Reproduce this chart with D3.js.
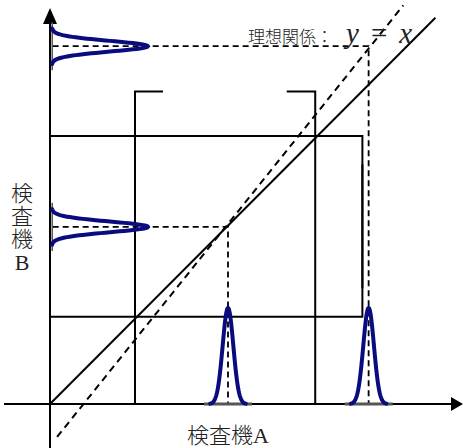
<!DOCTYPE html>
<html>
<head>
<meta charset="utf-8">
<script src="https://cdn.jsdelivr.net/npm/d3@7"></script>
<style>
  body { margin: 0; background: #fff; }
  svg { display: block; }
  .jp { font-family: "Liberation Serif", "Noto Sans CJK JP", serif; fill: #222; font-weight: 300; }
</style>
</head>
<body>
<div id="chart"></div>
<script>
// data (units of the diagram, 1 unit ~ 89px)
const thresholdsA = [0.955, 2.98]   // vertical limit lines (検査機A)
const thresholdsB = [0.98, 3.01]    // horizontal limit lines (検査機B)
const limitEnd = 3.51
const bracketTipsA = [1.27, 2.66]   // ends of top brackets
const bracketTipsB = [2.69, 1.30]   // ends of right brackets
const measuredA = [2.0, 3.58]
const measuredB = [1.99, 4.02]
const actualLine = [[0, 0], [4.33, 4.34]]
const idealLine = [[0.08, -0.37], [3.97, 4.48]]
const peakHeight = 1.08
const peakSigma = 0.06
const peakHalf = 0.2

const W = 463, H = 448
const svg = d3.select("#chart").append("svg")
  .attr("width", W).attr("height", H)

const x = d3.scaleLinear().domain([0, 4]).range([50, 50 + 4 * 89])
const y = d3.scaleLinear().domain([0, 4]).range([404, 404 - 4 * 89])

const line = d3.line().x(d => x(d[0])).y(d => y(d[1]))

// axes
svg.append("line").attr("x1", 4).attr("x2", 452).attr("y1", y(0)).attr("y2", y(0))
  .attr("stroke", "#000").attr("stroke-width", 2)
svg.append("path").attr("d", `M463,${y(0)} L451,${y(0) - 7} L451,${y(0) + 7} Z`).attr("fill", "#000")
svg.append("line").attr("x1", x(0)).attr("x2", x(0)).attr("y1", H).attr("y2", 22)
  .attr("stroke", "#000").attr("stroke-width", 2)
svg.append("path").attr("d", `M${x(0)},8 L${x(0) - 7},24 L${x(0) + 7},24 Z`).attr("fill", "#000")

// limit lines with brackets
thresholdsA.forEach((a, i) => {
  svg.append("path")
    .attr("d", line([[a, 0], [a, limitEnd], [bracketTipsA[i], limitEnd]]))
    .attr("fill", "none").attr("stroke", "#000").attr("stroke-width", 2)
})
thresholdsB.forEach((b, i) => {
  svg.append("path")
    .attr("d", line([[0, b], [limitEnd, b], [limitEnd, bracketTipsB[i]]]))
    .attr("fill", "none").attr("stroke", "#000").attr("stroke-width", 2)
})

// actual and ideal relations
svg.append("path").attr("d", line(actualLine))
  .attr("fill", "none").attr("stroke", "#000").attr("stroke-width", 2)
svg.append("path").attr("d", line(idealLine))
  .attr("fill", "none").attr("stroke", "#000").attr("stroke-width", 2)
  .attr("stroke-dasharray", "7,5")

// projections of measured points
measuredA.forEach((a, i) => {
  const b = measuredB[i]
  svg.append("path").attr("d", line([[0.03, b], [a, b], [a, 0]]))
    .attr("fill", "none").attr("stroke", "#000").attr("stroke-width", 1.8)
    .attr("stroke-dasharray", "6,4")
})

// distributions
const offsets = d3.range(-peakHalf, peakHalf + 0.001, 0.005)
const g = t => peakHeight * Math.exp(-(t * t) / (2 * peakSigma * peakSigma))

measuredA.forEach(a => {
  svg.append("line")
    .attr("x1", x(a - 0.27)).attr("x2", x(a + 0.27)).attr("y1", y(0)).attr("y2", y(0))
    .attr("stroke", "#555").attr("stroke-width", 3)
  svg.append("path").attr("d", line(offsets.map(t => [a + t, g(t)])))
    .attr("fill", "none").attr("stroke", "#0b0b80").attr("stroke-width", 4)
    .attr("stroke-linecap", "round")
})
measuredB.forEach(b => {
  svg.append("line")
    .attr("x1", x(0.025)).attr("x2", x(0.025)).attr("y1", y(b - 0.27)).attr("y2", y(b + 0.27))
    .attr("stroke", "#555").attr("stroke-width", 1.5)
  svg.append("path").attr("d", line(offsets.map(t => [0.02 + g(t), b + t])))
    .attr("fill", "none").attr("stroke", "#0b0b80").attr("stroke-width", 4)
    .attr("stroke-linecap", "round")
})

// labels
svg.append("text").attr("class", "jp")
  .attr("x", 187).attr("y", 443).attr("font-size", 22)
  .text("検査機A")

const yLabel = ["検", "査", "機", "B"]
svg.append("g").selectAll("text").data(yLabel).enter().append("text")
  .attr("class", "jp")
  .attr("x", 22).attr("y", (d, i) => 193 + i * 23)
  .attr("text-anchor", "middle").attr("dominant-baseline", "central")
  .attr("font-size", 22)
  .text(d => d)

const eq = svg.append("text").attr("class", "jp")
  .attr("x", 248).attr("y", 43)
eq.append("tspan").attr("font-size", 17).text("理想関係：")
eq.append("tspan").attr("font-family", "Liberation Serif").attr("font-size", 29)
  .attr("font-style", "italic").attr("dx", 13).text("y")
eq.append("tspan").attr("font-family", "Liberation Serif").attr("font-size", 29)
  .attr("dx", 12).text("=")
eq.append("tspan").attr("font-family", "Liberation Serif").attr("font-size", 29)
  .attr("font-style", "italic").attr("dx", 12).text("x")
</script>
</body>
</html>
